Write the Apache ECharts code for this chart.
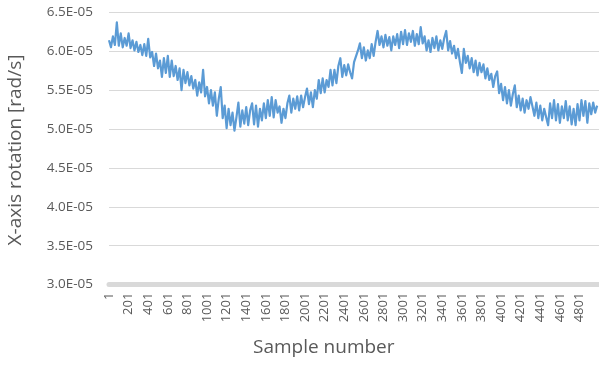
<!DOCTYPE html>
<html><head><meta charset="utf-8">
<script src="https://cdn.jsdelivr.net/npm/echarts@6/dist/echarts.min.js"></script>
<style>html,body{margin:0;padding:0;background:#fff}#c{width:599px;height:367px}</style>
</head><body><div id="c"></div>
<script>
// Chart data (values in units of 1E-05 rad/s), every 20 samples
const totalSamples = 5000;
const sampleStep = 20;
const yTickMin = 3.0, yTickMax = 6.5, yTickStep = 0.5;
const xAxisTitle = "Sample number";
const yAxisTitle = "X-axis rotation [rad/s]";
const rotationValues = [
6.14,6.05,6.19,6.08,6.37,6.07,6.23,6.05,6.17,6.07,
6.23,6.04,6.14,6.01,6.12,5.99,6.08,5.95,6.09,5.94,
6.16,5.92,5.99,5.81,5.97,5.78,5.88,5.67,5.91,5.72,
5.94,5.67,5.88,5.68,5.81,5.63,5.78,5.50,5.76,5.59,
5.73,5.56,5.68,5.52,5.63,5.43,5.60,5.47,5.76,5.42,
5.54,5.33,5.50,5.30,5.47,5.17,5.39,5.54,5.14,5.30,
5.01,5.26,5.05,5.21,4.98,5.15,5.34,5.03,5.24,5.07,
5.28,5.05,5.24,5.33,5.06,5.30,5.03,5.26,5.11,5.33,
5.14,5.37,5.17,5.41,5.15,5.37,5.21,5.29,5.08,5.26,
5.14,5.33,5.43,5.21,5.39,5.26,5.42,5.24,5.43,5.28,
5.41,5.52,5.32,5.47,5.28,5.50,5.39,5.63,5.46,5.65,
5.47,5.63,5.54,5.76,5.56,5.76,5.59,5.81,5.91,5.67,
5.82,5.69,5.83,5.73,5.65,5.86,5.88,6.01,6.10,5.91,
6.05,5.88,6.01,5.91,6.09,5.94,6.12,6.26,6.08,6.19,
6.05,6.21,6.07,6.18,6.01,6.19,6.08,6.22,6.04,6.25,
6.09,6.27,6.08,6.23,6.12,6.26,6.07,6.22,6.09,6.31,
6.10,6.19,6.01,6.14,5.99,6.17,6.04,6.19,6.01,6.14,
6.03,6.17,6.26,6.01,6.13,5.97,6.07,5.91,6.03,5.86,
5.72,6.03,5.85,5.94,5.78,5.91,5.73,5.88,5.69,5.85,
5.73,5.83,5.65,5.78,5.63,5.71,5.54,5.68,5.74,5.46,
5.58,5.37,5.54,5.33,5.50,5.30,5.45,5.56,5.28,5.43,
5.24,5.39,5.21,5.37,5.26,5.41,5.43,5.17,5.34,5.14,
5.30,5.11,5.26,5.15,5.05,5.33,5.14,5.37,5.11,5.32,
5.08,5.29,5.14,5.36,5.11,5.29,5.06,5.26,5.05,5.32,
5.11,5.37,5.17,5.36,5.08,5.33,5.19,5.34,5.21,5.30
];

const categories = [];
for (let s = 1; s <= totalSamples; s++) categories.push(String(s));
const seriesData = rotationValues.map((v, i) => [i * sampleStep, v]);

const font = "'Open Sans', 'Liberation Sans', sans-serif";
const chart = echarts.init(document.getElementById('c'), null, {renderer: 'canvas'});
chart.setOption({
  animation: false,
  backgroundColor: '#ffffff',
  grid: {left: 109, right: -3, top: 12.3, bottom: 82.4, containLabel: false},
  xAxis: {
    type: 'category',
    data: categories,
    boundaryGap: false,
    axisLine: {show: true, lineStyle: {color: '#d9d9d9', width: 5}},
    axisTick: {show: false},
    axisLabel: {interval: sampleStep * 10 - 1, rotate: 90, margin: 8, color: '#595959', fontFamily: font, fontSize: 13},
    splitLine: {show: false}
  },
  yAxis: {
    type: 'value',
    min: yTickMin, max: yTickMax, interval: yTickStep,
    axisLine: {show: false},
    axisTick: {show: false},
    axisLabel: {margin: 16, color: '#595959', fontFamily: font, fontSize: 13.5,
      formatter: v => v.toFixed(1) + 'E-05'},
    splitLine: {show: true, lineStyle: {color: '#d9d9d9', width: 1}}
  },
  graphic: [
    {type: 'text', left: 253, top: 338, style: {text: xAxisTitle, fill: '#595959', font: '19px ' + font}},
    {type: 'text', x: 16, y: 150, rotation: Math.PI / 2,
     style: {text: yAxisTitle, fill: '#595959', font: '19px ' + font, align: 'center', verticalAlign: 'middle'}}
  ],
  series: [{
    type: 'line',
    data: seriesData,
    showSymbol: false,
    symbol: 'none',
    smooth: false,
    lineStyle: {color: '#5b9bd5', width: 2.2, join: 'round'},
    itemStyle: {color: '#5b9bd5'}
  }]
});
</script>
</body></html>
